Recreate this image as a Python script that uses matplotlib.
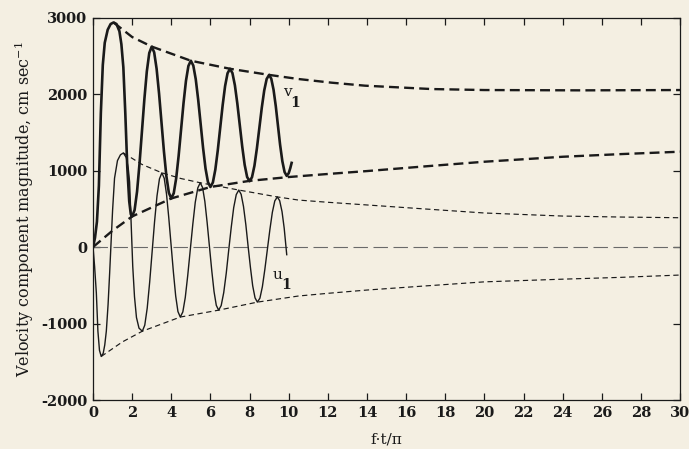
import numpy as np
import matplotlib
matplotlib.use("Agg")
import matplotlib.pyplot as plt

# v1 oscillation (thick solid)
v1_x = [0.0, 0.1, 0.2, 0.3, 0.4, 0.5, 0.6, 0.75, 0.9, 1.05, 1.2, 1.35, 1.45, 1.55,
        1.65, 1.75, 1.85, 1.93, 2.0,
        2.125, 2.25, 2.375, 2.5, 2.625, 2.75, 2.875, 3.0,
        3.125, 3.25, 3.375, 3.5, 3.625, 3.75, 3.875, 4.0,
        4.125, 4.25, 4.375, 4.5, 4.625, 4.75, 4.875, 5.0,
        5.125, 5.25, 5.375, 5.5, 5.625, 5.75, 5.875, 6.0,
        6.125, 6.25, 6.375, 6.5, 6.625, 6.75, 6.875, 7.0,
        7.125, 7.25, 7.375, 7.5, 7.625, 7.75, 7.875, 8.0,
        8.125, 8.25, 8.375, 8.5, 8.625, 8.75, 8.875, 9.0,
        9.11, 9.225, 9.34, 9.45, 9.56, 9.675, 9.79, 9.9,
        10.0, 10.08, 10.15]
v1_y = [0, 120, 330, 800, 1750, 2380, 2670, 2840, 2915, 2935, 2915, 2820, 2650, 2350,
        1750, 1050, 600, 430, 400,
        484, 724, 1086, 1510, 1934, 2296, 2536, 2620,
        2545, 2330, 2007, 1627, 1248, 925, 710, 635,
        703, 898, 1191, 1535, 1879, 2172, 2367, 2435,
        2372, 2194, 1925, 1610, 1295, 1026, 848, 785,
        844, 1011, 1262, 1558, 1853, 2104, 2271, 2330,
        2274, 2115, 1876, 1595, 1314, 1075, 916, 860,
        913, 1063, 1290, 1555, 1821, 2047, 2197, 2250,
        2200, 2057, 1842, 1590, 1338, 1123, 980, 930,
        965, 1030, 1100]

# u1 oscillation (thin solid)
u1_x = [0.0, 0.08, 0.17, 0.25, 0.33, 0.42, 0.52, 0.6, 0.68, 0.77, 0.85, 0.93, 1.0,
        1.1, 1.25, 1.4, 1.55, 1.7, 1.8, 1.87, 1.95, 2.03, 2.12, 2.22, 2.35, 2.52,
        2.645, 2.77, 2.895, 3.02, 3.145, 3.27, 3.395, 3.52,
        3.64, 3.755, 3.87, 3.99, 4.11, 4.225, 4.34, 4.46,
        4.59, 4.715, 4.84, 4.97, 5.1, 5.225, 5.355, 5.48,
        5.6, 5.715, 5.83, 5.95, 6.07, 6.185, 6.3, 6.42,
        6.55, 6.68, 6.81, 6.935, 7.065, 7.19, 7.32, 7.45,
        7.57, 7.69, 7.81, 7.925, 8.045, 8.16, 8.28, 8.4,
        8.53, 8.655, 8.78, 8.91, 9.04, 9.165, 9.29, 9.42,
        9.54, 9.66, 9.77, 9.9]
u1_y = [0, -250, -600, -1100, -1350, -1430, -1390, -1280, -1100, -750, -340, 100, 480,
        900, 1130, 1205, 1230, 1170, 1030, 850, 300, -250, -650, -920, -1060, -1100,
        -1021, -798, -460, -65, 330, 668, 891, 970,
        898, 695, 388, 27, -333, -640, -843, -915,
        -848, -659, -373, -37, 298, 584, 773, 840,
        777, 597, 326, 7, -311, -582, -762, -825,
        -765, -596, -340, -40, 260, 516, 685, 745,
        689, 531, 292, 12, -267, -506, -664, -720,
        -668, -519, -295, -32, 230, 454, 603, 655,
        605, 462, 247, -100]

# envelopes (dashed)
v1_hi_x = [1.05, 2.0, 3.0, 5.0, 7.0, 9.0, 10.5, 12.2, 13.9, 17.3, 20.0, 25.0, 30.0]
v1_hi_y = [2935, 2745, 2620, 2435, 2330, 2250, 2196, 2148, 2109, 2065, 2052, 2048, 2052]
v1_lo_x = [0.0, 1.0, 2.0, 4.0, 6.0, 8.0, 10.0, 12.0, 14.0, 17.0, 20.0, 24.0, 27.0, 30.0]
v1_lo_y = [0, 215, 400, 635, 785, 865, 915, 955, 993, 1055, 1115, 1180, 1215, 1246]
u1_hi_x = [1.55, 2.5, 3.52, 4.5, 5.48, 7.45, 9.42, 10.5, 12.0, 14.0, 17.0, 20.0, 24.0, 27.0, 30.0]
u1_hi_y = [1230, 1080, 970, 895, 840, 745, 655, 614, 585, 550, 497, 445, 405, 392, 383]
u1_lo_x = [0.42, 1.5, 2.52, 4.46, 6.42, 8.4, 10.5, 12.0, 14.0, 17.0, 20.0, 24.0, 27.0, 30.0]
u1_lo_y = [-1430, -1240, -1100, -915, -825, -720, -640, -605, -562, -508, -455, -420, -396, -366]

x_ticks = list(range(0, 31, 2))
y_ticks = [-2000, -1000, 0, 1000, 2000, 3000]

bg = '#f4efe2'
ink = '#1a1a1a'

plt.rcParams['font.family'] = ['DejaVu Serif']
plt.rcParams['mathtext.fontset'] = 'dejavuserif'
plt.rcParams['axes.unicode_minus'] = False

fig = plt.figure(figsize=(6.89, 4.49), dpi=100, facecolor=bg)
ax = fig.add_axes([0.135, 0.109, 0.852, 0.852])
ax.set_facecolor(bg)

ax.plot([0, 30], [0, 0], color='#6a6a6a', linewidth=0.8, dashes=(13, 5))

ax.plot(v1_hi_x, v1_hi_y, color=ink, linewidth=1.7, dashes=(4.2, 2.2))
ax.plot(v1_lo_x, v1_lo_y, color=ink, linewidth=1.7, dashes=(4.2, 2.2))
ax.plot(u1_hi_x, u1_hi_y, color=ink, linewidth=0.85, dashes=(4.5, 3))
ax.plot(u1_lo_x, u1_lo_y, color=ink, linewidth=0.85, dashes=(4.5, 3))

ax.plot(v1_x, v1_y, color=ink, linewidth=1.9, solid_joinstyle='round')
ax.plot(u1_x, u1_y, color=ink, linewidth=1.0, solid_joinstyle='round')

ax.text(9.7, 2030, 'v', fontsize=11, color=ink, ha='left', va='center')
ax.text(10.1, 1880, '1', fontsize=10, color=ink, ha='left', va='center',
        fontweight='bold')
ax.text(9.2, -365, 'u', fontsize=11, color=ink, ha='left', va='center')
ax.text(9.6, -500, '1', fontsize=10, color=ink, ha='left', va='center',
        fontweight='bold')

ax.set_xlim(0, 30)
ax.set_ylim(-2000, 3000)
ax.set_xticks(x_ticks)
ax.set_yticks(y_ticks)
ax.tick_params(direction='in', length=5, width=0.9, top=True, right=True,
               labelsize=10.5, colors=ink, pad=4)
for lab in ax.get_xticklabels() + ax.get_yticklabels():
    lab.set_fontweight('bold')
for s in ax.spines.values():
    s.set_linewidth(0.9)
    s.set_color(ink)

ax.set_xlabel('f\u00b7t/\u03c0', fontsize=11, color=ink, labelpad=9)
ax.set_ylabel('Velocity component magnitude, cm sec$^{-1}$', fontsize=11.5,
              color=ink, labelpad=4)

fig.savefig('out.png', dpi=100, facecolor=bg)
